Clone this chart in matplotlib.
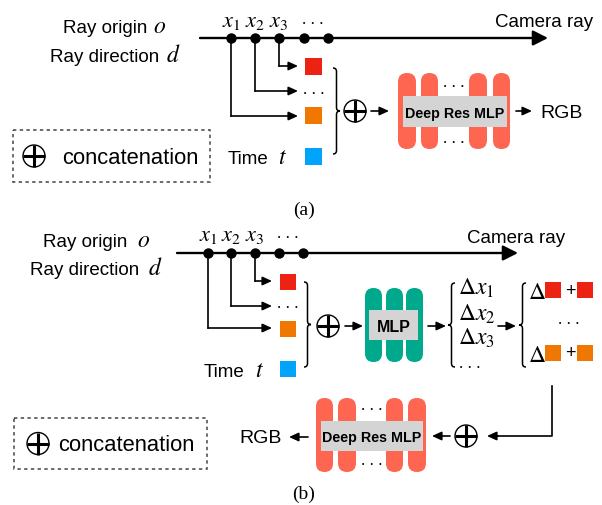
import matplotlib
matplotlib.use("Agg")
import matplotlib.pyplot as plt
from matplotlib.patches import Rectangle, Circle, FancyBboxPatch, PathPatch
from matplotlib.path import Path

plt.rcParams['font.family'] = ['Liberation Sans', 'DejaVu Sans']
plt.rcParams['mathtext.fontset'] = 'stix'

# labels and colours
panel_labels = ['(a)', '(b)']
point_labels = ['$x_1$', '$x_2$', '$x_3$']
offset_labels = ['$\\Delta x_1$', '$\\Delta x_2$', '$\\Delta x_3$']
input_colors = ['#EC2312', '#F07700', '#00A4FA']   # x3 sample, x1 sample, time
big_mlp_color = '#FE6651'
small_mlp_color = '#00A98C'
box_gray = '#D4D4D4'

SANS = 13.5
MATH = 17

fig = plt.figure(figsize=(6.02, 5.06), dpi=100)
ax = fig.add_axes([0, 0, 1, 1])
ax.set_xlim(0, 602)
ax.set_ylim(506, 0)
ax.axis('off')


def arrow(x0, y0, x1, y1, lw=1.2, hl=0.7, hw=0.32, ms=8):
    ax.annotate('', xy=(x1, y1), xytext=(x0, y0),
                arrowprops=dict(arrowstyle=f'-|>,head_length={hl},head_width={hw}',
                                lw=lw, color='black', shrinkA=0, shrinkB=0,
                                mutation_scale=ms))


def dots(x, y):
    # spaced ellipsis, y is the height of the dots
    ax.text(x, y + 1.5, '. . .', ha='center', va='baseline', fontsize=12.5,
            family='Liberation Serif')


def oplus(x, y, r=11):
    ax.add_patch(Circle((x, y), r, fill=False, lw=1.0, ec='black'))
    ax.plot([x - r, x + r], [y, y], color='black', lw=2.2, solid_capstyle='butt')
    ax.plot([x, x], [y - r, y + r], color='black', lw=2.2, solid_capstyle='butt')


def brace(x0, y0, y1, w):
    # vertical curly brace, tip points right for w > 0, left for w < 0
    h = w / 2
    r = abs(w) / 2
    ym = (y0 + y1) / 2
    verts = [(x0, y0), (x0 + h, y0), (x0 + h, y0 + r),
             (x0 + h, ym - r),
             (x0 + h, ym), (x0 + w, ym),
             (x0 + h, ym), (x0 + h, ym + r),
             (x0 + h, y1 - r),
             (x0 + h, y1), (x0, y1)]
    codes = [Path.MOVETO, Path.CURVE3, Path.CURVE3, Path.LINETO,
             Path.CURVE3, Path.CURVE3, Path.CURVE3, Path.CURVE3,
             Path.LINETO, Path.CURVE3, Path.CURVE3]
    ax.add_patch(PathPatch(Path(verts, codes), fill=False, lw=1.1, ec='black'))


def mlp(bars, y0, y1, color, box, label, size, dot_pos=None):
    for bx0, bx1 in bars:
        w = bx1 - bx0
        ax.add_patch(FancyBboxPatch((bx0, y0), w, y1 - y0,
                                    boxstyle=f'round,pad=0,rounding_size={w / 2}',
                                    fc=color, ec='none'))
    bx0, by0, bx1, by1 = box
    ax.add_patch(Rectangle((bx0, by0), bx1 - bx0, by1 - by0, fc=box_gray, ec='none'))
    ax.text((bx0 + bx1) / 2, (by0 + by1) / 2 + 1, label, ha='center', va='center',
            fontsize=size, fontweight='bold')
    if dot_pos is not None:
        dx, dy0, dy1 = dot_pos
        dots(dx, dy0)
        dots(dx, dy1)


def ray_inputs(lab_x, org_y, dir_y, o_x, d_x, ray_x0, ray_x1, ray_y, dot_xs, lab_y,
               cam_x, cam_y, branch_ys, branch_end, sq_x, sq, sq_ys, mid_dots_y,
               time_x, time_t_x, time_y):
    ax.text(lab_x[0], org_y, 'Ray origin', fontsize=SANS, va='baseline')
    ax.text(o_x, org_y, '$o$', fontsize=MATH, va='baseline')
    ax.text(lab_x[1], dir_y, 'Ray direction', fontsize=SANS, va='baseline')
    ax.text(d_x, dir_y, '$d$', fontsize=MATH, va='baseline')

    arrow(ray_x0, ray_y, ray_x1, ray_y, lw=1.7, hl=0.75, hw=0.38, ms=12)
    ax.scatter(dot_xs, [ray_y] * len(dot_xs), s=42, color='black', zorder=3)
    for px, lab in zip(dot_xs, point_labels):
        ax.text(px, lab_y, lab, fontsize=MATH - 1, ha='center', va='baseline')
    dots(dot_xs[3] + 9, lab_y - 5)
    ax.text(cam_x, cam_y, 'Camera ray', fontsize=SANS, va='baseline')

    # sampled points drop down to the inputs (x3 top, x1 bottom)
    for px, by in zip(dot_xs[2::-1], branch_ys):
        ax.plot([px, px], [ray_y, by], color='black', lw=1.2)
        arrow(px, by, branch_end, by)

    for c, sy in zip(input_colors, sq_ys):
        ax.add_patch(Rectangle((sq_x, sy), sq, sq, fc=c, ec='none'))
    dots(sq_x + sq / 2, mid_dots_y)
    ax.text(time_x, time_y, 'Time', fontsize=SANS, va='baseline')
    ax.text(time_t_x, time_y, '$t$', fontsize=MATH, va='baseline')


def legend_box(x0, y0, x1, y1, ox, tx):
    ax.add_patch(Rectangle((x0, y0), x1 - x0, y1 - y0, fill=False, ec='#444444',
                           lw=1.1, ls=(0, (2.2, 2.2))))
    ym = (y0 + y1) / 2
    oplus(ox, ym)
    ax.text(tx, ym + 1, 'concatenation', fontsize=15.8, va='center')


# ---------------- (a) ----------------
ray_inputs(lab_x=(63, 50), org_y=33, dir_y=62, o_x=153, d_x=166,
           ray_x0=200, ray_x1=548, ray_y=39, dot_xs=[231, 255, 279, 304, 328],
           lab_y=27, cam_x=495, cam_y=27, branch_ys=[67, 92, 117], branch_end=298,
           sq_x=305, sq=17, sq_ys=[59, 108, 149], mid_dots_y=92,
           time_x=228, time_t_x=278, time_y=164)
brace(333, 69, 155, 7)
oplus(355, 112)
arrow(371, 112, 389, 112)
mlp([(398, 416), (421, 438), (469, 487), (493, 510)], 74, 150, big_mlp_color,
    (403, 97, 507, 128), 'Deep Res MLP', 10.3, dot_pos=(454, 85, 141))
arrow(516, 112, 532, 112)
ax.text(540, 113, 'RGB', fontsize=SANS + 0.5, va='center')
legend_box(13, 131, 210, 183, 34, 62)
ax.text(304, 210, panel_labels[0], fontsize=14, ha='center', va='center',
        family='Liberation Serif')

# ---------------- (b) ----------------
ray_inputs(lab_x=(43, 30), org_y=247, dir_y=275, o_x=137, d_x=148,
           ray_x0=177, ray_x1=518, ray_y=254, dot_xs=[208, 231, 255, 279, 303],
           lab_y=241, cam_x=467, cam_y=243, branch_ys=[282, 307, 329], branch_end=272,
           sq_x=280, sq=16, sq_ys=[275, 322, 362], mid_dots_y=307,
           time_x=204, time_t_x=255, time_y=377)
brace(304, 283, 368, 7)
oplus(328, 327)
arrow(345, 327, 363, 327)
mlp([(365, 382), (386, 403), (406, 423)], 289, 363, small_mlp_color,
    (369, 311, 418, 341), 'MLP', 11.5)
arrow(428, 327, 446, 327)

# predicted offsets
brace(455, 284, 368, -7)
for lab, oy in zip(offset_labels, [295, 321, 345]):
    ax.text(458, oy, lab, fontsize=MATH, va='baseline')
dots(470, 366)
arrow(498, 327, 516, 327)

# offsets added to the sampled inputs
brace(526, 284, 368, -7)
for c, ry in zip(input_colors[:2], [283, 346]):
    ax.text(528, ry + 16, '$\\Delta$', fontsize=MATH, va='baseline')
    ax.add_patch(Rectangle((545, ry), 16, 16, fc=c, ec='none'))
    ax.text(570, ry + 8, '+', fontsize=13, ha='center', va='center')
    ax.add_patch(Rectangle((577, ry), 16, 16, fc=c, ec='none'))
dots(569, 323)

# feed back into the deep network
ax.plot([552, 552, 498], [387, 437, 437], color='black', lw=1.2)
arrow(498, 437, 487, 437)
oplus(466, 437)
arrow(450, 437, 432, 437)
mlp([(316, 333), (338, 356), (386, 403), (408, 426)], 399, 473, big_mlp_color,
    (321, 422, 423, 452), 'Deep Res MLP', 10.3, dot_pos=(372, 409, 464))
arrow(308, 438, 289, 438)
ax.text(282, 439, 'RGB', fontsize=SANS + 0.5, ha='right', va='center')
legend_box(14, 419, 207, 470, 38, 58)
ax.text(304, 494, panel_labels[1], fontsize=14, ha='center', va='center',
        family='Liberation Serif')

fig.savefig('out.png', dpi=100)
